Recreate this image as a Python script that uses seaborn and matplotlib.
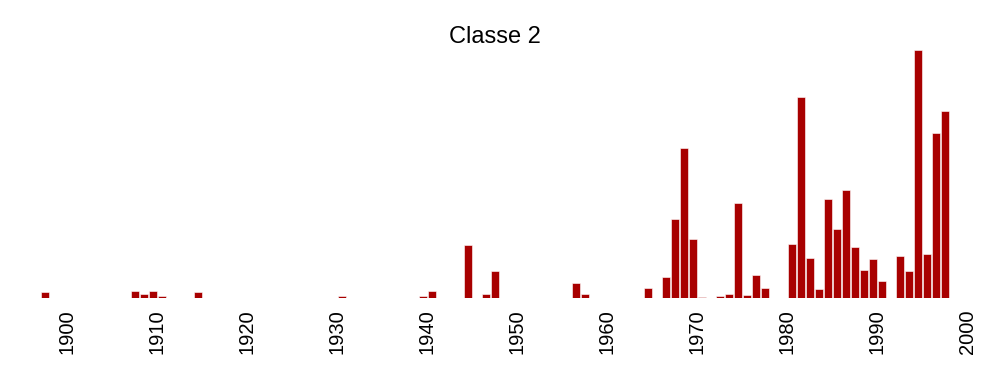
import matplotlib
matplotlib.use("Agg")
import matplotlib.pyplot as plt
import seaborn as sns
import numpy as np
import pandas as pd

years = [1897, 1907, 1908, 1909, 1910, 1914, 1930, 1939, 1940, 1944, 1946, 1947,
         1956, 1957, 1964, 1966, 1967, 1968, 1969, 1970, 1972, 1973, 1974, 1975,
         1976, 1977, 1978, 1980, 1981, 1982, 1983, 1984, 1985, 1986, 1987, 1988,
         1989, 1990, 1991, 1992, 1993, 1994, 1995, 1996, 1997]
values = [5.7, 7.3, 4.3, 7.3, 1.7, 5.7, 2.3, 2.3, 7.3, 53, 4, 27,
          14.7, 4.3, 10, 20.5, 79, 150, 59, 1.3, 2.3, 3.7, 95, 3,
          23, 10, 0.5, 54, 201, 40, 9, 99, 69, 108, 51, 28,
          39, 17, 0.5, 42, 27, 248, 44, 165, 187]
tick_years = [1900, 1910, 1920, 1930, 1940, 1950, 1960, 1970, 1980, 1990, 2000]
title = "Classe 2"

df = pd.DataFrame({"year": years, "value": values})

sns.set_theme(style="white")
plt.rcParams['font.family'] = ['Liberation Sans', 'DejaVu Sans']
plt.rcParams['text.color'] = 'black'
plt.rcParams['xtick.color'] = 'black'

fig = plt.figure(figsize=(10, 3.75), dpi=100)
ax = fig.add_axes([0.018, 0.2053, 0.954, 0.662])

sns.histplot(data=df, x="year", weights="value", binwidth=1,
             binrange=(1897, 1998), shrink=0.82, color="#A80000",
             edgecolor="white", linewidth=0.4, alpha=1, ax=ax)

ax.set_xlim(1894.5, 2000.5)
ax.set_ylim(0, max(values))
ax.set_xticks(tick_years)
ax.set_xticklabels([str(t) for t in tick_years], rotation=90, fontsize=14.5, color="black")
ax.tick_params(axis="x", length=0, pad=8)
ax.set_yticks([])
ax.set_xlabel("")
ax.set_ylabel("")
for s in ax.spines.values():
    s.set_visible(False)
ax.set_title(title, fontsize=17, pad=5, color="black")

fig.savefig("out.png", dpi=100)
